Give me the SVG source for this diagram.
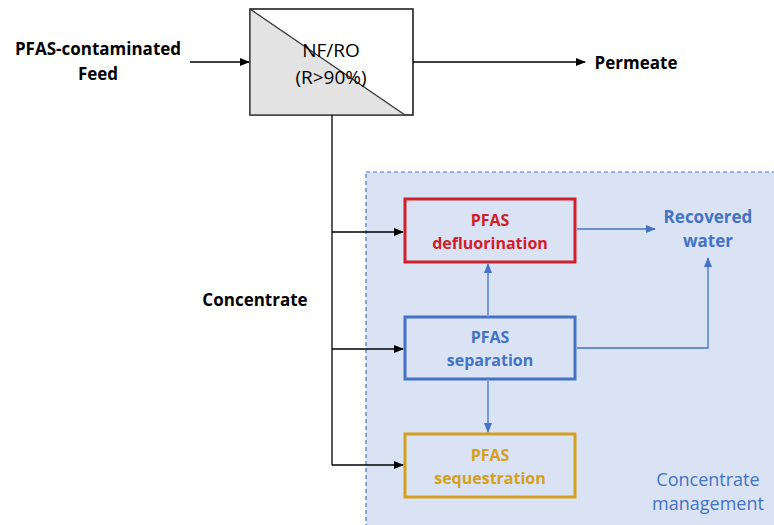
<svg xmlns="http://www.w3.org/2000/svg" width="774" height="525" viewBox="0 0 774 525">
<defs>
<style>
text{font-family:"Open Sans","Liberation Sans",sans-serif;text-anchor:middle}
.b{font-weight:bold}
.k{fill:#000}
.blue{fill:#4472c4}
.conn{fill:none;stroke-width:1.3}
</style>
<marker id="ak" markerWidth="10" markerHeight="8" refX="9" refY="4" orient="auto" markerUnits="userSpaceOnUse"><path d="M0,0 L10,4 L0,8 Z" fill="#000"/></marker>
<marker id="ab" markerWidth="10" markerHeight="8" refX="9" refY="4" orient="auto" markerUnits="userSpaceOnUse"><path d="M0,0 L10,4 L0,8 Z" fill="#4472c4"/></marker>
</defs>
<rect width="774" height="525" fill="#fff"/>
<g id="concentrate-management">
<rect x="366" y="172" width="420" height="360" fill="#dae3f3" stroke="#4472c4" stroke-width="1.2" stroke-dasharray="4,3"/>
<text x="708" y="486" font-size="18" class="blue">Concentrate</text>
<text x="708" y="510" font-size="18" class="blue">management</text>
</g>
<g id="feed">
<text x="98" y="55" font-size="17" class="b k">PFAS-contaminated</text>
<text x="98" y="80" font-size="17" class="b k">Feed</text>
</g>
<g id="nfro">
<rect x="250" y="9" width="163" height="106" fill="#fff" stroke="#333" stroke-width="1.3"/>
<polygon points="250,9 405,115 250,115" fill="#e3e3e3"/>
<line x1="250" y1="9" x2="405" y2="115" stroke="#333" stroke-width="1.3"/>
<rect x="250" y="9" width="163" height="106" fill="none" stroke="#333" stroke-width="1.3"/>
<text x="331" y="57" font-size="19" class="k">NF/RO</text>
<text x="331" y="84" font-size="19" class="k">(R&gt;90%)</text>
</g>
<g id="permeate">
<text x="636" y="69" font-size="17" class="b k">Permeate</text>
</g>
<g id="concentrate-label">
<text x="255" y="306" font-size="17" class="b k">Concentrate</text>
</g>
<g id="defluorination">
<rect x="405" y="199" width="170" height="63" fill="none" stroke="#d0202a" stroke-width="3"/>
<text x="490" y="226" font-size="16" class="b" fill="#d0202a">PFAS</text>
<text x="490" y="249" font-size="16" class="b" fill="#d0202a">defluorination</text>
</g>
<g id="separation">
<rect x="405" y="317" width="170" height="62" fill="none" stroke="#4472c4" stroke-width="3"/>
<text x="490" y="343" font-size="16" class="b blue">PFAS</text>
<text x="490" y="366" font-size="16" class="b blue">separation</text>
</g>
<g id="sequestration">
<rect x="405" y="434" width="170" height="63" fill="none" stroke="#d4a020" stroke-width="3"/>
<text x="490" y="461" font-size="16" class="b" fill="#d4a020">PFAS</text>
<text x="490" y="484" font-size="16" class="b" fill="#d4a020">sequestration</text>
</g>
<g id="recovered-water">
<text x="708" y="223" font-size="17" class="b blue">Recovered</text>
<text x="708" y="247" font-size="17" class="b blue">water</text>
</g>
<g id="connectors">
<line x1="190" y1="62" x2="249" y2="62" stroke="#000" class="conn" marker-end="url(#ak)"/>
<line x1="413" y1="62" x2="585" y2="62" stroke="#000" class="conn" marker-end="url(#ak)"/>
<polyline points="332,115 332,465" stroke="#000" class="conn"/>
<line x1="332" y1="232" x2="403" y2="232" stroke="#000" class="conn" marker-end="url(#ak)"/>
<line x1="332" y1="349" x2="403" y2="349" stroke="#000" class="conn" marker-end="url(#ak)"/>
<line x1="332" y1="465" x2="403" y2="465" stroke="#000" class="conn" marker-end="url(#ak)"/>
<line x1="577" y1="229" x2="655" y2="229" stroke="#4472c4" class="conn" marker-end="url(#ab)"/>
<line x1="488" y1="315" x2="488" y2="264" stroke="#4472c4" class="conn" marker-end="url(#ab)"/>
<line x1="488" y1="381" x2="488" y2="432" stroke="#4472c4" class="conn" marker-end="url(#ab)"/>
<polyline points="577,348 708,348 708,258" stroke="#4472c4" class="conn" marker-end="url(#ab)"/>
</g>
</svg>
